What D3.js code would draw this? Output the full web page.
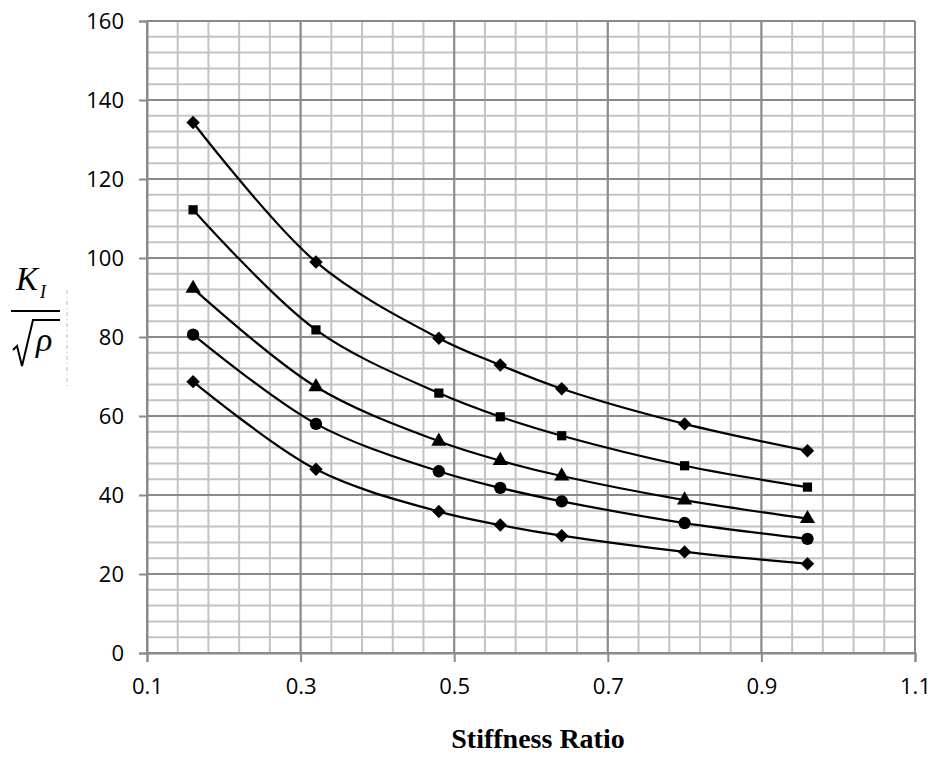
<!DOCTYPE html>
<html>
<head>
<meta charset="utf-8">
<script src="https://cdn.jsdelivr.net/npm/d3@7/dist/d3.min.js"></script>
<style>
  html, body { margin: 0; padding: 0; background: #fff; }
  svg { display: block; }
</style>
</head>
<body>
<svg id="chart" width="932" height="770"></svg>
<script>
// Stiffness ratio values (x) shared by every curve
const stiffness = [0.16, 0.32, 0.48, 0.56, 0.64, 0.80, 0.96];

// K_I / sqrt(rho) for each curve, top to bottom
const seriesA = [134.3, 99.0, 79.7, 72.9, 66.9, 58.0, 51.2];   // diamond
const seriesB = [112.2, 81.8, 65.8, 59.8, 55.0, 47.4, 42.0];   // square
const seriesC = [92.3, 67.4, 53.6, 48.7, 44.8, 38.7, 34.0];    // triangle
const seriesD = [80.6, 58.0, 46.0, 41.8, 38.4, 32.9, 28.9];    // circle
const seriesE = [68.7, 46.5, 35.8, 32.4, 29.7, 25.6, 22.6];    // diamond

const markerTypes = ["diamond", "square", "triangle", "circle", "diamond"];

const xTicks = [0.1, 0.3, 0.5, 0.7, 0.9, 1.1];
const yTicks = [0, 20, 40, 60, 80, 100, 120, 140, 160];

const svg = d3.select("#chart");
const plot = { left: 147, right: 915, top: 21, bottom: 653 };

const x = d3.scaleLinear().domain([0.1, 1.1]).range([plot.left, plot.right]);
const y = d3.scaleLinear().domain([0, 160]).range([plot.bottom, plot.top]);

// minor grid: every 0.04 in x, every 4 in y
const xMinor = d3.range(0, 26).map(i => +(0.1 + i * 0.04).toFixed(2));
const yMinor = d3.range(0, 41).map(i => i * 4);

const grid = svg.append("g");
grid.selectAll("line.xm").data(xMinor).join("line")
  .attr("x1", d => x(d)).attr("x2", d => x(d))
  .attr("y1", plot.top).attr("y2", plot.bottom)
  .attr("stroke", "#c3c3c3").attr("stroke-width", 2);
grid.selectAll("line.ym").data(yMinor).join("line")
  .attr("x1", plot.left).attr("x2", plot.right)
  .attr("y1", d => y(d)).attr("y2", d => y(d))
  .attr("stroke", "#c3c3c3").attr("stroke-width", 2);

// major grid
grid.selectAll("line.xM").data(xTicks).join("line")
  .attr("x1", d => x(d)).attr("x2", d => x(d))
  .attr("y1", plot.top).attr("y2", plot.bottom)
  .attr("stroke", "#8a8a8a").attr("stroke-width", 2);
grid.selectAll("line.yM").data(yTicks).join("line")
  .attr("x1", plot.left).attr("x2", plot.right)
  .attr("y1", d => y(d)).attr("y2", d => y(d))
  .attr("stroke", "#8a8a8a").attr("stroke-width", 2);

// axes
const xAxis = d3.axisBottom(x).tickValues(xTicks).tickSize(9).tickPadding(16)
  .tickFormat(d3.format(".1f"));
const yAxis = d3.axisLeft(y).tickValues(yTicks).tickSize(8).tickPadding(15)
  .tickFormat(d3.format("d"));

const gx = svg.append("g").attr("transform", `translate(0,${plot.bottom})`).call(xAxis);
const gy = svg.append("g").attr("transform", `translate(${plot.left},0)`).call(yAxis);
[gx, gy].forEach(g => {
  g.select(".domain").attr("stroke", "#8a8a8a").attr("stroke-width", 2);
  g.selectAll(".tick line").attr("stroke", "#8a8a8a").attr("stroke-width", 2);
  g.selectAll(".tick text")
    .attr("fill", "#000")
    .style("font-family", "'Open Sans', sans-serif")
    .style("font-size", "22px");
});

// curves
const allSeries = [seriesA, seriesB, seriesC, seriesD, seriesE];
const line = d3.line()
  .x(d => x(d[0])).y(d => y(d[1]))
  .curve(d3.curveCatmullRom.alpha(0.5));

const symbolOf = {
  diamond: d3.symbol().type(d3.symbolDiamond2).size(115),
  square: d3.symbol().type(d3.symbolSquare).size(85),
  triangle: d3.symbol().type(d3.symbolTriangle).size(100),
  circle: d3.symbol().type(d3.symbolCircle).size(120)
};

allSeries.forEach((vals, i) => {
  const pts = stiffness.map((s, j) => [s, vals[j]]);
  svg.append("path")
    .datum(pts)
    .attr("d", line)
    .attr("fill", "none")
    .attr("stroke", "#000")
    .attr("stroke-width", 2.2);
  svg.append("g").selectAll("path").data(pts).join("path")
    .attr("transform", d => `translate(${x(d[0])},${y(d[1])})`)
    .attr("d", symbolOf[markerTypes[i]])
    .attr("fill", "#000");
});

// x-axis title
svg.append("text")
  .attr("x", 538).attr("y", 748)
  .attr("text-anchor", "middle")
  .style("font-family", "'Liberation Serif', 'Times New Roman', serif")
  .style("font-weight", "bold")
  .style("font-size", "28px")
  .text("Stiffness Ratio");

// y-axis title: K_I over sqrt(rho)
const ylab = svg.append("g");
ylab.append("text")
  .attr("x", 16).attr("y", 290)
  .style("font-family", "'Liberation Serif', serif")
  .style("font-style", "italic")
  .style("font-size", "33px")
  .text("K");
ylab.append("text")
  .attr("x", 40).attr("y", 298)
  .style("font-family", "'Liberation Serif', serif")
  .style("font-style", "italic")
  .style("font-size", "18px")
  .text("I");
ylab.append("line")
  .attr("x1", 11).attr("x2", 60).attr("y1", 311).attr("y2", 311)
  .attr("stroke", "#000").attr("stroke-width", 2);
ylab.append("path")
  .attr("d", "M13,350 L17,346 L22,366 L33,320 L60,320")
  .attr("fill", "none").attr("stroke", "#000").attr("stroke-width", 2);
ylab.append("text")
  .attr("x", 36).attr("y", 351)
  .style("font-family", "'Liberation Serif', serif")
  .style("font-style", "italic")
  .style("font-size", "34px")
  .text("ρ");
ylab.append("line")
  .attr("x1", 67).attr("x2", 67).attr("y1", 290).attr("y2", 387)
  .attr("stroke", "#bbb").attr("stroke-width", 1)
  .attr("stroke-dasharray", "4,3,1,3");
</script>
</body>
</html>
